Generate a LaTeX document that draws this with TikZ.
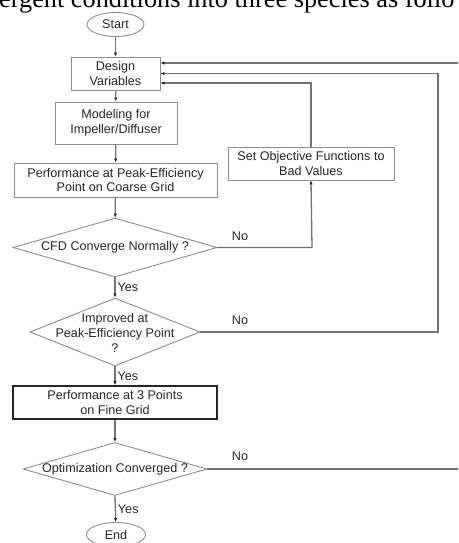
\documentclass[tikz,border=0pt]{standalone}
\usepackage{fontspec}
\setmainfont{Liberation Sans}
\newfontfamily\headfont{Liberation Serif}
\usetikzlibrary{shapes.geometric,arrows.meta}
\begin{document}
\begin{tikzpicture}[x=1pt,y=-1pt,
  every node/.style={font=\fontsize{12.6}{14.6}\selectfont, text=black!85},
  box/.style={draw=black!45, line width=0.9pt, rectangle, inner sep=0pt, align=center},
  term/.style={draw=black!45, line width=0.9pt, ellipse, inner sep=0pt},
  dec/.style={draw=black!45, line width=0.9pt, diamond, inner sep=0pt},
  conn/.style={draw=black!55, line width=1.3pt, -{Latex[length=4pt,width=3.5pt,color=black!85]}},
  lbl/.style={inner sep=0pt}
]
\useasboundingbox (0,0) rectangle (458,543);
\clip (0,0) rectangle (458,543);
\fill[white] (0,0) rectangle (458,543);
% header fragment (cut off at the top edge, as in the reference)
\node[anchor=base west, inner sep=0pt, font=\headfont\fontsize{26.3}{28}\selectfont, text=black] (head) at (-1,7.5) {ergent conditions into three species as follo};
% nodes
\node[term, minimum width=57pt, minimum height=24pt] (start) at (115.5,24.5) {Start};
\node[box, minimum width=89pt, minimum height=33pt] (dv) at (115.5,73.5) {Design\\Variables};
\node[box, minimum width=122pt, minimum height=42pt] (mod) at (116,123) {Modeling for\\Impeller/Diffuser};
\node[box, minimum width=203pt, minimum height=34pt] (perf) at (115.5,180) {Performance at Peak-Efficiency\\Point on Coarse Grid};
\node[box, minimum width=166pt, minimum height=33pt] (setobj) at (311,163.5) {Set Objective Functions to\\Bad Values};
\node[dec, minimum width=204pt, minimum height=59pt] (cfd) at (115,247.5) {};
\node[lbl] (cfdt) at (cfd) {CFD Converge Normally ?};
\node[dec, minimum width=170pt, minimum height=68pt] (imp) at (115,332) {};
\node[lbl, align=center] (impt) at (115,333) {Improved at\\Peak-Efficiency Point\\?};
\node[box, draw=black!85, line width=1.6pt, minimum width=204pt, minimum height=33pt] (fine) at (115,402.5) {Performance at 3 Points\\on Fine Grid};
\node[dec, minimum width=184pt, minimum height=53pt] (opt) at (115,469) {};
\node[lbl] (optt) at (opt) {Optimization Converged ?};
\node[term, minimum width=59pt, minimum height=24pt] (end) at (116,534.5) {End};
% free corner coordinates
\coordinate (c1) at (312,247.5);
\coordinate (c2) at (438,73.5);
\coordinate (c3) at (475,469);
% main flow
\draw[conn] (start) -- (dv);
\draw[conn] (dv) -- (mod);
\draw[conn] (mod) -- (perf);
\draw[conn] (perf) -- (cfd);
\draw[conn] (cfd.south) -- node[lbl, anchor=west, xshift=2pt] (y1) {Yes} (imp.north);
\draw[conn] (imp.south) -- node[lbl, anchor=west, xshift=2pt] (y2) {Yes} (fine);
\draw[conn] (fine) -- (opt.north);
\draw[conn] (opt.south) -- node[lbl, anchor=west, xshift=2pt] (y3) {Yes} (end);
% loops
\draw[conn] (cfd.east) -- (c1) -- (setobj.south);
\node[lbl] (n1) at (240,236) {No};
\draw[conn] (setobj.north) |- ([yshift=-9.5pt]dv.east);
\draw[conn] (imp.east) -| (c2) -- (dv.east);
\node[lbl] (n2) at (240,320) {No};
\draw[conn] (opt.east) -- (c3) |- ([yshift=10.5pt]dv.east);
\node[lbl] (n3) at (240,456) {No};
\end{tikzpicture}
\end{document}
